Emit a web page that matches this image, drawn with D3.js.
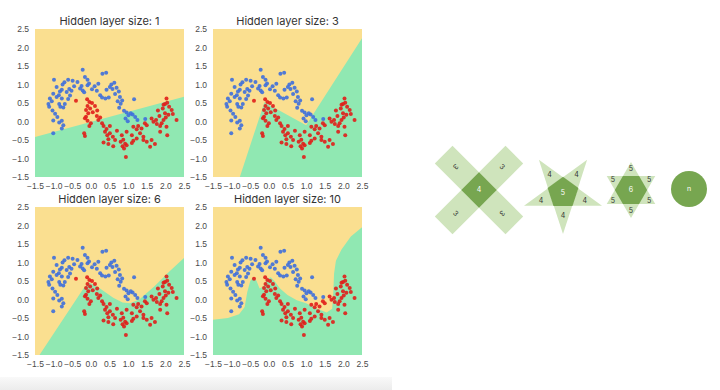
<!DOCTYPE html>
<html>
<head>
<meta charset="utf-8">
<script src="https://d3js.org/d3.v7.min.js"></script>
<style>
  html, body { margin: 0; padding: 0; background: #fff; }
  svg { display: block; font-family: Inter, "DejaVu Sans", sans-serif; }
</style>
</head>
<body>
<script>
// ─── data ────────────────────────────────────────────────────────────────────
const titles = ['Hidden layer size: 1', 'Hidden layer size: 3',
                'Hidden layer size: 6', 'Hidden layer size: 10'];
const tickValues = [-1.5, -1.0, -0.5, 0.0, 0.5, 1.0, 1.5, 2.0, 2.5];

// class 0 (upper moon)
const bluePoints = [
  [-0.22,1.40],[0.41,1.32],[0.31,1.29],[-0.16,1.20],[-0.09,1.13],[-0.99,1.13],[-0.61,1.13],
  [-0.49,1.10],[-0.36,1.07],[-0.71,1.06],[-0.76,1.00],[-0.25,0.96],[-0.09,0.98],[-0.05,1.03],
  [0.63,1.05],[0.20,1.02],[0.51,0.93],[0.42,0.86],[0.58,0.88],[0.69,0.91],[0.75,0.81],
  [0.65,0.74],[-0.92,0.93],[-0.78,0.86],[-0.83,0.81],[-1.01,0.75],[-0.86,0.71],[-0.92,0.66],
  [-0.78,0.62],[-0.58,0.88],[-0.52,0.83],[-0.56,0.70],[-0.61,0.61],[-0.29,0.89],[-0.22,0.84],
  [-0.18,0.79],[0.16,0.83],[0.25,0.71],[0.30,0.65],[0.39,0.62],[0.48,0.65],[0.78,0.66],
  [0.84,0.57],[0.80,0.48],[0.76,0.37],[-1.10,0.62],[-1.14,0.47],[-1.12,0.40],[-1.03,0.30],
  [-0.96,0.21],[-0.90,0.12],[-1.01,0.03],[-0.85,-0.03],[-0.78,0.02],[-0.74,-0.10],[-0.78,-0.19],
  [-1.01,-0.32],[-0.85,0.47],[-0.82,0.40],[-0.70,0.47],[-0.74,0.38],[1.16,0.60],[0.89,0.29],
  [0.96,0.24],[1.01,0.17],[1.07,0.22],[0.93,0.08],[0.99,0.01],[1.12,0.19],[1.19,0.12],
  [1.25,0.04],[1.46,0.07],[0.03,0.87],[-0.45,0.95],[0.55,1.00],[0.10,0.95],[-0.65,0.80],
  [-1.05,0.55],[0.72,0.55]
];

// class 1 (lower moon)
const redPoints = [
  [-0.40,0.56],[-0.04,0.53],[0.03,0.50],[-0.09,0.42],[-0.13,0.31],[-0.02,0.35],[-0.07,0.22],
  [-0.16,0.09],[-0.09,0.02],[0.00,-0.05],[-0.04,-0.12],[-0.13,0.13],[0.11,0.42],[0.17,0.30],
  [0.16,0.15],[0.25,0.11],[0.20,0.04],[-0.18,-0.32],[-0.16,-0.39],[0.34,-0.12],[0.51,-0.12],
  [0.38,-0.28],[0.44,-0.37],[0.51,-0.32],[0.59,-0.41],[0.47,-0.48],[0.65,-0.50],[0.34,-0.57],
  [0.47,-0.61],[0.60,-0.67],[0.83,-0.37],[0.87,-0.49],[0.80,-0.55],[0.92,-0.60],[0.85,-0.67],
  [0.96,-0.64],[0.89,-0.73],[0.94,-0.96],[1.10,-0.58],[1.14,-0.52],[1.23,-0.46],[1.32,-0.32],
  [1.27,-0.12],[1.36,-0.19],[1.50,-0.10],[1.63,0.08],[1.68,-0.01],[1.75,0.04],[1.84,0.15],
  [1.77,-0.07],[1.86,-0.12],[1.90,-0.05],[1.95,0.04],[2.01,0.11],[1.41,-0.50],[1.50,-0.55],
  [1.63,-0.50],[1.72,-0.61],[1.59,-0.68],[1.41,-0.41],[1.95,0.45],[1.99,0.47],[2.05,0.51],
  [1.93,0.35],[1.99,0.22],[2.08,0.18],[2.17,0.31],[2.20,0.20],[2.30,0.04],[1.86,-0.28],
  [2.03,-0.14],[2.05,-0.37],[1.14,-0.14],[1.23,-0.21],[0.96,-0.28],[1.10,-0.37],[0.30,-0.05],
  [0.42,-0.20],[0.70,-0.25],[1.45,-0.05],[1.80,0.30],[2.10,0.40],[0.05,0.25],[-0.10,0.60],
  [2.03,0.62]
];

// green (class 1) decision regions, one per hidden layer size
const region1 = [[-1.5,-1.5],[-1.5,-0.42],[2.5,0.67],[2.5,-1.5]];
const region3 = [[-0.78,-1.5],[-0.12,0.52],[1.0,-0.1],[2.5,2.25],[2.5,-1.5]];
const region6 = [[-1.38,-1.5],[-0.2,0.3],[-0.05,0.45],[0.1,0.4],[0.35,0.22],[0.6,0.05],
                 [0.85,-0.08],[1.05,-0.1],[1.3,0.0],[1.7,0.35],[2.1,0.75],[2.5,1.12],[2.5,-1.5]];
const region10 = [[-1.5,-1.5],[-1.5,-0.55],[-1.1,-0.5],[-0.8,-0.4],[-0.65,-0.2],[-0.58,0.2],
                  [-0.5,0.5],[-0.42,0.6],[-0.33,0.5],[-0.25,0.3],[-0.15,0.35],[-0.05,0.55],
                  [0.05,0.6],[0.15,0.5],[0.3,0.3],[0.5,0.12],[0.75,-0.02],[1.0,-0.1],
                  [1.3,-0.25],[1.55,-0.35],[1.7,-0.25],[1.73,0.2],[1.75,0.7],[1.8,1.05],
                  [1.95,1.35],[2.2,1.7],[2.5,1.95],[2.5,-1.5]];
const regions = [region1, region3, region6, region10];

// labels of the shape diagram
const centerLabels = ['4', '5', '6', 'n'];
const armLabels    = ['3', '4', '5'];

// ─── setup ───────────────────────────────────────────────────────────────────
const W = 720, H = 390;
const svg = d3.select('body').append('svg').attr('width', W).attr('height', H);

// faint grey strip under the plots
const grad = svg.append('defs').append('linearGradient')
  .attr('id', 'strip').attr('x1', 0).attr('x2', 0).attr('y1', 0).attr('y2', 1);
grad.append('stop').attr('offset', '0%').attr('stop-color', '#f9f9f9');
grad.append('stop').attr('offset', '100%').attr('stop-color', '#ececec');
svg.append('rect').attr('x', 0).attr('y', 377).attr('width', 392).attr('height', 13)
  .attr('fill', 'url(#strip)');

const PW = 149, PH = 148;
const panelX = [35, 213], panelY = [29, 207];
const x = d3.scaleLinear().domain([-1.5, 2.5]).range([0, PW]);
const y = d3.scaleLinear().domain([-1.5, 2.5]).range([PH, 0]);
const fmt = d3.format('.1f');
const area = d3.line().x(d => x(d[0])).y(d => y(d[1]));

titles.forEach((title, i) => {
  const g = svg.append('g')
    .attr('transform', `translate(${panelX[i % 2]},${panelY[Math.floor(i / 2)]})`);

  g.append('clipPath').attr('id', 'clip' + i)
    .append('rect').attr('width', PW).attr('height', PH);

  const plot = g.append('g').attr('clip-path', `url(#clip${i})`);
  plot.append('rect').attr('width', PW).attr('height', PH).attr('fill', '#fadf90');
  plot.append('path').datum(regions[i]).attr('d', d => area(d) + 'Z').attr('fill', '#90e8b2');

  plot.selectAll('circle.b').data(bluePoints).join('circle')
    .attr('class', 'b').attr('cx', d => x(d[0])).attr('cy', d => y(d[1])).attr('r', 2)
    .attr('fill', '#3e6fdc').attr('fill-opacity', 0.9);
  plot.selectAll('circle.r').data(redPoints).join('circle')
    .attr('class', 'r').attr('cx', d => x(d[0])).attr('cy', d => y(d[1])).attr('r', 2)
    .attr('fill', '#e01e1a').attr('fill-opacity', 0.9);

  const ax = g.append('g').attr('transform', `translate(0,${PH})`)
    .call(d3.axisBottom(x).tickValues(tickValues).tickSize(0).tickPadding(6).tickFormat(fmt));
  const ay = g.append('g')
    .call(d3.axisLeft(y).tickValues(tickValues).tickSize(0).tickPadding(6).tickFormat(fmt));
  [ax, ay].forEach(a => {
    a.select('.domain').remove();
    a.selectAll('text').attr('fill', '#4a4a4a').style('font-size', '8.5px');
  });

  g.append('text').attr('x', PW / 2).attr('y', -4).attr('text-anchor', 'middle')
    .attr('fill', '#333').style('font-size', '11px').text(title);
});

// ─── shape diagram ───────────────────────────────────────────────────────────
const LIGHT = '#cfe4bc', DARK = '#77a650';
const dg = svg.append('g');
const poly = pts => 'M' + pts.map(p => p.join(',')).join('L') + 'Z';
const polar = (cx, cy, r, deg) => [cx + r * Math.cos(deg * Math.PI / 180), cy + r * Math.sin(deg * Math.PI / 180)];
const small = (sel, fill) => sel.attr('text-anchor', 'middle').attr('dy', '0.35em')
  .attr('fill', fill).style('font-size', '7px');

// cross: two bars, overlap square
{
  const cx = 479, cy = 190, L = 100, w = 25;
  [45, -45].forEach(a => {
    dg.append('rect').attr('x', cx - L / 2).attr('y', cy - w / 2).attr('width', L).attr('height', w)
      .attr('transform', `rotate(${a},${cx},${cy})`).attr('fill', LIGHT);
  });
  const h = w / Math.SQRT2;
  dg.append('path').attr('d', poly([[cx - h, cy], [cx, cy - h], [cx + h, cy], [cx, cy + h]])).attr('fill', DARK);
  small(dg.append('text').attr('x', cx).attr('y', cy), '#fff').text(centerLabels[0]);
  [[-135, 135], [-45, 45], [135, 45], [45, 135]].forEach(([ang, rot]) => {
    const [tx, ty] = polar(cx, cy, 33, ang);
    small(dg.append('text').attr('transform', `translate(${tx},${ty}) rotate(${rot})`), '#333')
      .text(armLabels[0]);
  });
}

// pentagram
{
  const cx = 563, cy = 193, R = 41, r = 15.7;
  d3.range(5).forEach(k => {
    const a = 90 + 72 * k;
    dg.append('path').attr('d', poly([polar(cx, cy, R, a), polar(cx, cy, r, a - 36), polar(cx, cy, r, a + 36)]))
      .attr('fill', LIGHT);
    const [tx, ty] = polar(cx, cy, 23, a);
    small(dg.append('text').attr('x', tx).attr('y', ty), '#333').text(armLabels[1]);
  });
  dg.append('path').attr('d', poly(d3.range(5).map(k => polar(cx, cy, r + 0.5, 126 + 72 * k)))).attr('fill', DARK);
  small(dg.append('text').attr('x', cx).attr('y', cy), '#fff').text(centerLabels[1]);
}

// hexagram
{
  const cx = 631, cy = 190, R = 28;
  [-90, 90].forEach(a0 => {
    dg.append('path').attr('d', poly(d3.range(3).map(k => polar(cx, cy, R, a0 + 120 * k)))).attr('fill', LIGHT);
  });
  dg.append('path').attr('d', poly(d3.range(6).map(k => polar(cx, cy, R / Math.sqrt(3), 60 * k)))).attr('fill', DARK);
  d3.range(6).forEach(k => {
    const [tx, ty] = polar(cx, cy, 21, -90 + 60 * k);
    small(dg.append('text').attr('x', tx).attr('y', ty), '#333').text(armLabels[2]);
  });
  small(dg.append('text').attr('x', cx).attr('y', cy), '#fff').text(centerLabels[2]);
}

// circle
dg.append('circle').attr('cx', 689).attr('cy', 189).attr('r', 18).attr('fill', DARK);
small(dg.append('text').attr('x', 689).attr('y', 189), '#fff').text(centerLabels[3]);
</script>
</body>
</html>
